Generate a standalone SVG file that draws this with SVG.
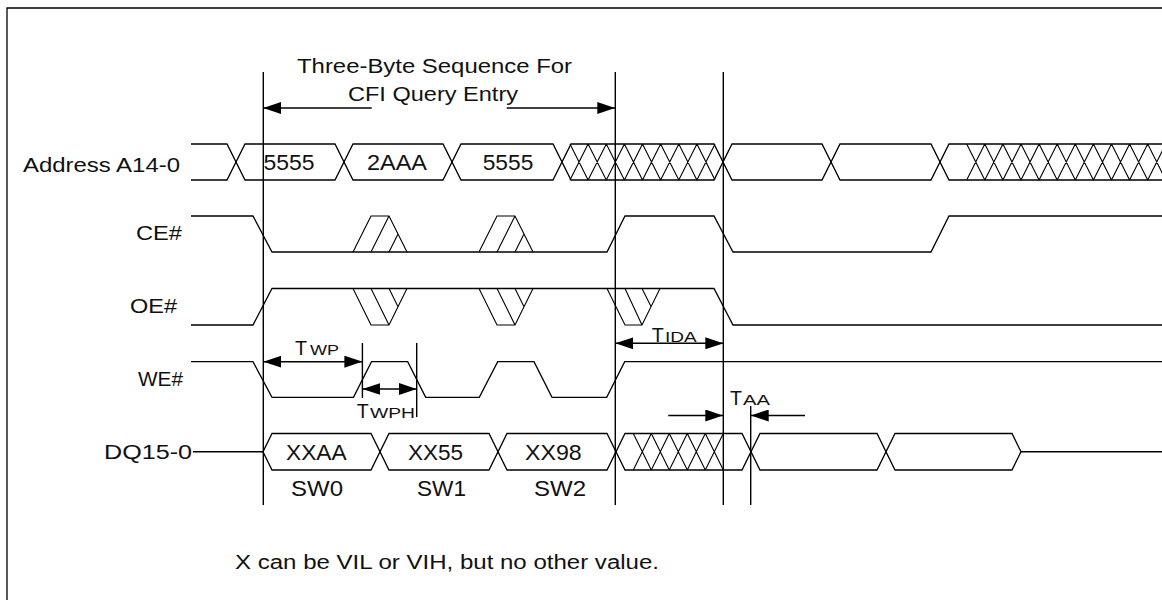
<svg xmlns="http://www.w3.org/2000/svg" width="1162" height="600" viewBox="0 0 1162 600">
<style>
.w{fill:none;stroke:#000;stroke-width:1.3;stroke-linejoin:miter}
.h{fill:none;stroke:#000;stroke-width:1.1}
.v{fill:none;stroke:#000;stroke-width:1.4}
.a{fill:none;stroke:#000;stroke-width:1.4}
text{font-family:"Liberation Sans",Arial,sans-serif;fill:#111}
.lb{font-size:19.5px}
.val{font-size:21.5px}
.tt{font-size:20px}
.T{font-size:21px}
.s{font-size:15px}
</style>
<defs>
<marker id="ah" viewBox="0 0 18 12" refX="18" refY="6" markerWidth="18" markerHeight="12" markerUnits="userSpaceOnUse" orient="auto-start-reverse">
<path d="M0,0 L18,6 L0,12 Z" fill="#000"/>
</marker>
</defs>
<rect width="1162" height="600" fill="#fff"/>
<g id="frame"><path class="w" d="M7,600 V8 H1162"/></g>

<g id="title">
<text class="tt" x="297" y="73" textLength="275" lengthAdjust="spacingAndGlyphs">Three-Byte Sequence For</text>
<text class="tt" x="348" y="101" textLength="170" lengthAdjust="spacingAndGlyphs">CFI Query Entry</text>
</g>

<g id="address">
<text class="lb" x="23" y="171.5" textLength="157" lengthAdjust="spacingAndGlyphs">Address A14-0</text>
<path class="w" d="M191,144 H227 L245,180 H335 L353,144 H443 L461,180 H553 L571,144 H714 L732,180 H822 L840,144 H931 L949,180 H1162"/>
<path class="w" d="M191,180 H227 L245,144 H335 L353,180 H443 L461,144 H553 L571,180 H714 L732,144 H822 L840,180 H931 L949,144 H1162"/>
<path class="h" d="M570,144 L588.1,180 M570,180 L588.1,144 M588.1,144 L606.3,180 M588.1,180 L606.3,144 M606.3,144 L624.4,180 M606.3,180 L624.4,144 M624.4,144 L642.5,180 M624.4,180 L642.5,144 M642.5,144 L660.6,180 M642.5,180 L660.6,144 M660.6,144 L678.8,180 M660.6,180 L678.8,144 M678.8,144 L696.9,180 M678.8,180 L696.9,144 M696.9,144 L715,180 M696.9,180 L715,144"/>
<path class="h" d="M966.7,144 L984.8,180 M966.7,180 L984.8,144 M984.8,144 L1002.9,180 M984.8,180 L1002.9,144 M1002.9,144 L1021,180 M1002.9,180 L1021,144 M1021,144 L1039.1,180 M1021,180 L1039.1,144 M1039.1,144 L1057.2,180 M1039.1,180 L1057.2,144 M1057.2,144 L1075.3,180 M1057.2,180 L1075.3,144 M1075.3,144 L1093.4,180 M1075.3,180 L1093.4,144 M1093.4,144 L1111.5,180 M1093.4,180 L1111.5,144 M1111.5,144 L1129.6,180 M1111.5,180 L1129.6,144 M1129.6,144 L1147.7,180 M1129.6,180 L1147.7,144 M1147.7,144 L1165.8,180 M1147.7,180 L1165.8,144"/>
<text class="val" x="263.5" y="170" textLength="51" lengthAdjust="spacingAndGlyphs">5555</text>
<text class="val" x="367" y="170" textLength="60" lengthAdjust="spacingAndGlyphs">2AAA</text>
<text class="val" x="482.7" y="170" textLength="50.6" lengthAdjust="spacingAndGlyphs">5555</text>
</g>

<g id="ce">
<text class="lb" x="136" y="240" textLength="46" lengthAdjust="spacingAndGlyphs">CE#</text>
<path class="w" d="M191,216 H253 L272,252 H607 L625,216 H714 L733,252 H931 L949,216 H1162"/>
<path class="h" d="M353,252 L371,216 H389 L407,252 M371,252 L389,216 M389,252 L398,234"/>
<path class="h" d="M479,252 L497,216 H515 L533,252 M497,252 L515,216 M515,252 L524,234"/>
</g>

<g id="oe">
<text class="lb" x="130" y="313" textLength="47" lengthAdjust="spacingAndGlyphs">OE#</text>
<path class="w" d="M191,325 H253 L272,288.5 H714 L733,325 H1162"/>
<path class="h" d="M353,288.5 L371,325 H389 L407,288.5 M371,288.5 L389,325 M389,288.5 L398,306.75"/>
<path class="h" d="M479,288.5 L497,325 H515 L533,288.5 M497,288.5 L515,325 M515,288.5 L524,306.75"/>
<path class="h" d="M607,288.5 L625,325 H642 L660,288.5 M625,288.5 L642,325 M642,288.5 L651,306.5"/>
</g>

<g id="we">
<text class="lb" x="138" y="386" textLength="45" lengthAdjust="spacingAndGlyphs">WE#</text>
<path class="w" d="M191,361.7 H253 L272,397.3 H353.5 L371.5,361.7 H407.7 L425.7,397.3 H479.3 L497.7,361.7 H534 L552,397.3 H606.7 L624.7,361.7 H1162"/>
</g>

<g id="dq">
<text class="lb" x="104" y="459" textLength="88" lengthAdjust="spacingAndGlyphs">DQ15-0</text>
<path class="w" d="M193,451.75 H263 L272,433.5 H371 L389,470 H489 L507,433.5 H607 L625,470 H742 L760,433.5 H877 L895,470 H1012 L1021,451.75 H1162"/>
<path class="w" d="M263,451.75 L272,470 H371 L389,433.5 H489 L507,470 H607 L625,433.5 H742 L760,470 H877 L895,433.5 H1012 L1021,451.75"/>
<path class="h" d="M633.3,433.5 L651.3,470 M633.3,470 L651.3,433.5 M651.3,433.5 L669.3,470 M651.3,470 L669.3,433.5 M669.3,433.5 L687.3,470 M669.3,470 L687.3,433.5 M687.3,433.5 L705.3,470 M687.3,470 L705.3,433.5 M705.3,433.5 L723.3,470 M705.3,470 L723.3,433.5"/>
<text class="val" x="286" y="460" textLength="60.7" lengthAdjust="spacingAndGlyphs">XXAA</text>
<text class="val" x="408" y="460" textLength="55" lengthAdjust="spacingAndGlyphs">XX55</text>
<text class="val" x="525" y="460" textLength="56.7" lengthAdjust="spacingAndGlyphs">XX98</text>
<text class="val" x="291" y="496" textLength="52" lengthAdjust="spacingAndGlyphs">SW0</text>
<text class="val" x="417" y="496" textLength="49" lengthAdjust="spacingAndGlyphs">SW1</text>
<text class="val" x="534" y="496" textLength="52" lengthAdjust="spacingAndGlyphs">SW2</text>
</g>

<g id="connectors">
<path class="v" d="M263.3,72 V505 M615.3,72 V505 M723.3,72 V505 M750.7,406 V505 M362.4,343 V398 M416.7,343 V417"/>
<path class="a" d="M371.7,108 H263.3" marker-end="url(#ah)"/>
<path class="a" d="M506.7,108 H615.3" marker-end="url(#ah)"/>
<path class="a" d="M263.3,361.7 H362.4" marker-start="url(#ah)" marker-end="url(#ah)"/>
<path class="a" d="M362.4,389 H416.7" marker-start="url(#ah)" marker-end="url(#ah)"/>
<path class="a" d="M615.3,343.3 H723.3" marker-start="url(#ah)" marker-end="url(#ah)"/>
<path class="a" d="M668.3,415.5 H723.3" marker-end="url(#ah)"/>
<path class="a" d="M805,415.5 H750.7" marker-end="url(#ah)"/>
</g>

<g id="timing-labels">
<text class="T" x="295" y="355" textLength="12" lengthAdjust="spacingAndGlyphs">T</text><text class="s" x="310" y="355" textLength="29" lengthAdjust="spacingAndGlyphs">WP</text>
<text class="T" x="356.7" y="418" textLength="12" lengthAdjust="spacingAndGlyphs">T</text><text class="s" x="370" y="418" textLength="45" lengthAdjust="spacingAndGlyphs">WPH</text>
<text class="T" x="651.7" y="341.7" textLength="12" lengthAdjust="spacingAndGlyphs">T</text><text class="s" x="665" y="341.7" textLength="31.7" lengthAdjust="spacingAndGlyphs">IDA</text>
<text class="T" x="730" y="405" textLength="12" lengthAdjust="spacingAndGlyphs">T</text><text class="s" x="743" y="405" textLength="27" lengthAdjust="spacingAndGlyphs">AA</text>
</g>

<g id="note">
<text class="lb" x="235" y="569" textLength="424" lengthAdjust="spacingAndGlyphs">X can be VIL or VIH, but no other value.</text>
</g>
</svg>
